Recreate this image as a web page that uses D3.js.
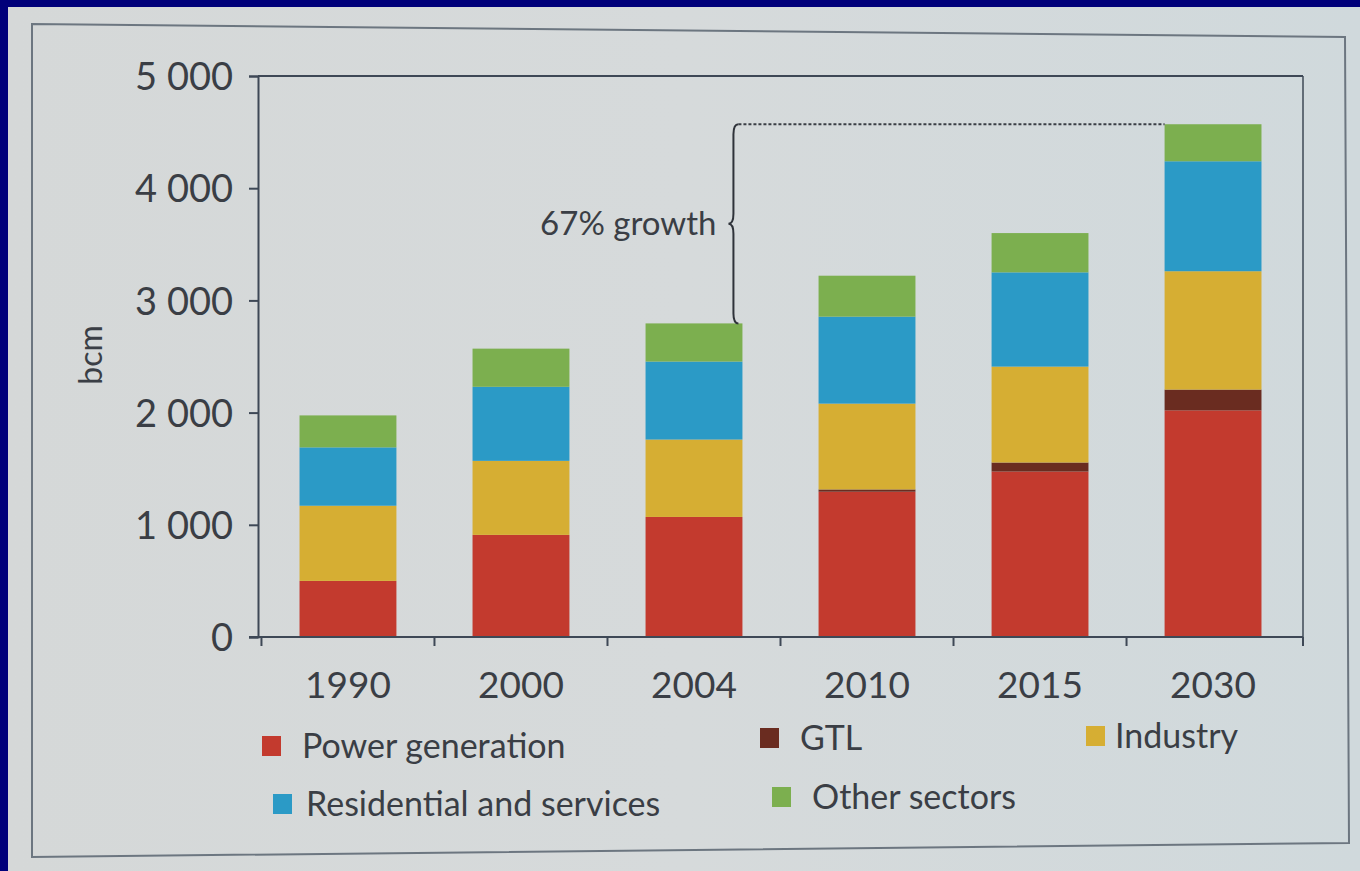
<!DOCTYPE html>
<html>
<head>
<meta charset="utf-8">
<script src="https://cdn.jsdelivr.net/npm/d3@7"></script>
<style>
  html, body { margin: 0; padding: 0; background: #00007a; }
  svg { display: block; }
  text { font-family: Lato, "Open Sans", sans-serif; fill: #3a3e45; }
</style>
</head>
<body>
<div id="canvas"></div>
<script>
// chart values (bcm)
var years = ["1990", "2000", "2004", "2010", "2015", "2030"];
var power = [500, 910, 1070, 1295, 1475, 2020];
var gtl = [0, 0, 0, 20, 80, 185];
var industry = [670, 660, 690, 765, 855, 1055];
var residential = [520, 660, 695, 775, 840, 980];
var other = [285, 340, 340, 365, 350, 330];

var seriesKeys = ["power", "gtl", "industry", "residential", "other"];
var seriesNames = ["Power generation", "GTL", "Industry", "Residential and services", "Other sectors"];
var seriesColors = ["#c33a2e", "#6a2c20", "#d6ae33", "#2b9ac6", "#7caf4f"];
var yTicks = [0, 1000, 2000, 3000, 4000, 5000];
var growthLabel = "67% growth";

var W = 1360, H = 871;

var svg = d3.select("#canvas").append("svg")
    .attr("width", W)
    .attr("height", H);

// paper background with slide border at top / left
var defs = svg.append("defs");
var grad = defs.append("linearGradient").attr("id", "paper")
    .attr("x1", 0).attr("y1", 0).attr("x2", 1).attr("y2", 0);
grad.append("stop").attr("offset", 0).attr("stop-color", "#d5d8d8");
grad.append("stop").attr("offset", 0.5).attr("stop-color", "#d6dadb");
grad.append("stop").attr("offset", 1).attr("stop-color", "#d0d9dc");

svg.append("rect").attr("width", W).attr("height", H).attr("fill", "#00007a");
svg.append("rect").attr("x", 8).attr("y", 7).attr("width", W - 8).attr("height", H - 7)
    .attr("fill", "url(#paper)");

// printed frame around the figure (photo is slightly skewed)
svg.append("path")
    .attr("d", "M32,24 L1345,37 L1349,843 L32,857 Z")
    .attr("fill", "none")
    .attr("stroke", "#6c7680")
    .attr("stroke-width", 2);

// build table for the stack
var table = years.map(function(y, i) {
    return { year: y, power: power[i], gtl: gtl[i], industry: industry[i],
             residential: residential[i], other: other[i] };
});
var stacked = d3.stack().keys(seriesKeys)(table);

var plotLeft = 258, plotRight = 1303, plotTop = 76, plotBottom = 637;

var x = d3.scaleBand().domain(years).range([plotLeft, plotRight]).paddingInner(0.44).paddingOuter(0.24);
var y = d3.scaleLinear().domain([0, 5000]).range([plotBottom, plotTop]);
var color = d3.scaleOrdinal().domain(seriesKeys).range(seriesColors);

var axisColor = "#3e4856";

// bars
svg.append("g").selectAll("g")
    .data(stacked)
    .enter().append("g")
    .attr("fill", function(d) { return color(d.key); })
    .selectAll("rect")
    .data(function(d) { return d; })
    .enter().append("rect")
    .attr("x", function(d) { return x(d.data.year); })
    .attr("width", x.bandwidth())
    .attr("y", function(d) { return y(d[1]); })
    .attr("height", function(d) { return y(d[0]) - y(d[1]); });

// plot frame top and right
svg.append("line").attr("x1", plotLeft).attr("x2", plotRight).attr("y1", y(5000)).attr("y2", y(5000))
    .attr("stroke", axisColor).attr("stroke-width", 2);
svg.append("line").attr("x1", plotRight).attr("x2", plotRight).attr("y1", y(5000)).attr("y2", y(0))
    .attr("stroke", axisColor).attr("stroke-width", 1.5);

// y axis
var yAxis = svg.append("g")
    .attr("transform", "translate(" + plotLeft + ",0)")
    .call(d3.axisLeft(y).tickValues(yTicks).tickSize(9).tickPadding(16)
        .tickFormat(function(d) { return d3.format(",")(d).replace(",", " "); }));
yAxis.selectAll("path, line").attr("stroke", axisColor).attr("stroke-width", 2);
yAxis.selectAll("text").style("font-size", "38px").attr("fill", "#3a3e45")
    .attr("dy", "0.36em").style("font-family", "Lato, sans-serif");

// x axis: ticks sit between the categories
var xAxis = svg.append("g").attr("transform", "translate(0," + plotBottom + ")");
xAxis.append("line").attr("x1", plotLeft - 9).attr("x2", plotRight).attr("y1", 0).attr("y2", 0)
    .attr("stroke", axisColor).attr("stroke-width", 2);
var step = x.step();
var boundaries = years.map(function(yr) { return x(yr) - (step - x.bandwidth()) / 2; });
boundaries.push(plotRight);
xAxis.selectAll("line.tick").data(boundaries).enter().append("line")
    .attr("class", "tick")
    .attr("x1", function(d) { return d; }).attr("x2", function(d) { return d; })
    .attr("y1", 0).attr("y2", 9)
    .attr("stroke", axisColor).attr("stroke-width", 2);
xAxis.selectAll("text").data(years).enter().append("text")
    .attr("x", function(d) { return x(d) + x.bandwidth() / 2; })
    .attr("y", 61)
    .attr("text-anchor", "middle")
    .style("font-size", "37px")
    .text(function(d) { return d; });

// y axis title
svg.append("text")
    .attr("transform", "translate(102,355) rotate(-90)")
    .attr("text-anchor", "middle")
    .style("font-size", "32px")
    .text("bcm");

// growth annotation: brace from 2004 total up to 2030 total
var total2004 = d3.sum(seriesKeys, function(k) { return table[2][k]; });
var total2030 = d3.sum(seriesKeys, function(k) { return table[5][k]; });
var yTop = y(total2030), yBot = y(total2004);
var bx = x("2004") + x.bandwidth() - 4;
var ym = (yTop + yBot) / 2;
var bw = 5;
svg.append("path")
    .attr("d", "M" + bx + "," + yTop +
        " Q" + (bx - bw) + "," + yTop + " " + (bx - bw) + "," + (yTop + 10) +
        " L" + (bx - bw) + "," + (ym - 10) +
        " Q" + (bx - bw) + "," + ym + " " + (bx - 2 * bw) + "," + ym +
        " Q" + (bx - bw) + "," + ym + " " + (bx - bw) + "," + (ym + 10) +
        " L" + (bx - bw) + "," + (yBot - 10) +
        " Q" + (bx - bw) + "," + yBot + " " + bx + "," + yBot)
    .attr("fill", "none")
    .attr("stroke", "#2f333a")
    .attr("stroke-width", 2);
svg.append("line")
    .attr("x1", bx).attr("x2", x("2030"))
    .attr("y1", yTop).attr("y2", yTop)
    .attr("stroke", "#3a3e45").attr("stroke-width", 2)
    .attr("stroke-dasharray", "3,2");
svg.append("text")
    .attr("x", bx - 2 * bw - 12)
    .attr("y", ym)
    .attr("dy", "0.35em")
    .attr("text-anchor", "end")
    .style("font-size", "33px")
    .text(growthLabel);

// legend
var legendPos = [[262, 746], [760, 738], [1086, 736], [273, 804], [772, 797]];
var legend = svg.append("g").selectAll("g")
    .data(seriesKeys)
    .enter().append("g")
    .attr("transform", function(d, i) { return "translate(" + legendPos[i][0] + "," + legendPos[i][1] + ")"; });
legend.append("rect")
    .attr("x", 0).attr("y", -10).attr("width", 19).attr("height", 20)
    .attr("fill", function(d) { return color(d); });
legend.append("text")
    .attr("x", function(d, i) { return i === 2 ? 29 : (i === 3 ? 33 : 40); })
    .attr("dy", "0.36em")
    .style("font-size", "34px")
    .text(function(d, i) { return seriesNames[i]; });
</script>
</body>
</html>
